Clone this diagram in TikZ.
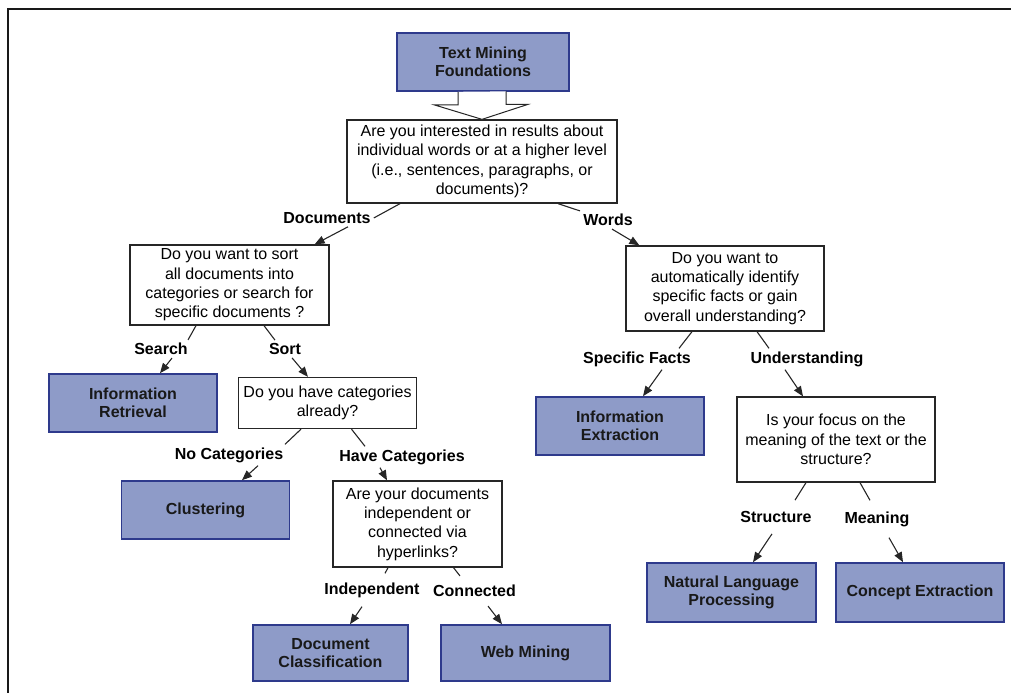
\documentclass[tikz,border=0pt]{standalone}
\usepackage{fontspec}
\setmainfont{Liberation Sans}
\usetikzlibrary{arrows.meta,calc}
\definecolor{boxfill}{HTML}{8E9BC8}
\definecolor{boxline}{HTML}{2E3A8C}
\begin{document}
\begin{tikzpicture}[x=1pt,y=-1pt,
  question/.style={draw=black!85, line width=1.3pt, fill=white, align=center, inner sep=0pt,
    font=\fontsize{16}{19.3}\selectfont},
  result/.style={draw=boxline, line width=1.6pt, fill=boxfill, align=center, inner sep=0pt,
    font=\fontsize{16}{18.5}\selectfont\bfseries, text=black!90},
  choice/.style={font=\fontsize{16}{19}\selectfont\bfseries, inner sep=3pt},
  link/.style={draw=black!85, line width=1.1pt},
  pick/.style={link, -{Triangle[length=10pt,width=8pt]}},
  hollow/.style={draw=black!85, line width=1pt, fill=white},
]
\useasboundingbox (0,0) rectangle (1011,693);

% page frame (top and left edges)
\draw[line width=2pt, black!90] (1011,9) -- (8,9) -- (8,693);

% boxes
\node[result, minimum width=172, minimum height=58] (top) at (483,62) {Text Mining\\Foundations};
\node[question, minimum width=270, minimum height=83] (q1) at (482,161.5)
  {Are you interested in results about\\individual words or at a higher level\\(i.e., sentences, paragraphs, or\\documents)?};

\node[question, minimum width=199, minimum height=80] (q2) at (229.5,285)
  {Do you want to sort\\all documents into\\categories or search for\\specific documents ?};
\node[result, minimum width=168, minimum height=58] (ir) at (133,403) {Information\\Retrieval};
\node[question, minimum width=178, minimum height=51] (q3) at (327.5,403)
  {Do you have categories\\already?};
\node[result, minimum width=168, minimum height=58] (clu) at (205.5,510) {Clustering};
\node[question, minimum width=169, minimum height=86] (q4) at (417.5,524)
  {Are your documents\\independent or\\connected via\\hyperlinks?};
\node[result, minimum width=155, minimum height=56] (dc) at (330.5,653) {Document\\Classification};
\node[result, minimum width=169, minimum height=56] (wm) at (525.5,653) {Web Mining};

\node[question, minimum width=198, minimum height=85] (q5) at (725,288.5)
  {Do you want to\\automatically identify\\specific facts or gain\\overall understanding?};
\node[result, minimum width=168, minimum height=58] (ie) at (620,426) {Information\\Extraction};
\node[question, minimum width=198, minimum height=85] (q6) at (836,439.5)
  {Is your focus on the\\meaning of the text or the\\structure?};
\node[result, minimum width=169, minimum height=59] (nlp) at (731.5,592.5) {Natural Language\\Processing};
\node[result, minimum width=168, minimum height=59] (ce) at (920,592.5) {Concept Extraction};

% branch labels
\node[choice] (docs) at (327,218) {Documents};
\node[choice] (words) at (608,220) {Words};
\node[choice] (search) at (161,349) {Search};
\node[choice] (sort) at (285,349) {Sort};
\node[choice] (nocat) at (229,455) {No Categories};
\node[choice] (havecat) at (402,457) {Have Categories};
\node[choice] (indep) at (372,590) {Independent};
\node[choice] (conn) at (474.5,591) {Connected};
\node[choice] (sf) at (637,359) {Specific Facts};
\node[choice] (und) at (807,359) {Understanding};
\node[choice] (struct) at (776,517) {Structure};
\node[choice] (mean) at (877,519) {Meaning};

% hollow arrow from the start box
\draw[hollow] ([xshift=-25pt]top.south) -- ++(0,13) -- ++(-24,0) -- (q1.north)
  -- ++(46,-15) -- ++(-22,0) -- ++(0,-13);

% connectors: box -> label, label -> box
\draw[link] ([xshift=-82pt]q1.south) -- (docs.east);
\draw[pick] ([xshift=21pt]docs.south) -- ([xshift=-15pt]q2.north east);
\draw[link] ([xshift=76pt]q1.south) -- (words.north west);
\draw[pick] ([xshift=4pt]words.south) -- ([xshift=14pt]q5.north west);

\draw[link] ([xshift=-33.5pt]q2.south) -- ([xshift=27pt]search.north);
\draw[pick] ([xshift=11pt]search.south) -- ([xshift=27pt]ir.north);
\draw[link] ([xshift=34.5pt]q2.south) -- ([xshift=-10pt]sort.north);
\draw[pick] ([xshift=7pt]sort.south) -- ([xshift=-19.5pt]q3.north);

\draw[link] ([xshift=-26.5pt]q3.south) -- ([xshift=56pt]nocat.north);
\draw[pick] ([xshift=29pt]nocat.south) -- ([xshift=36.5pt]clu.north);
\draw[link] ([xshift=24pt]q3.south) -- ([xshift=-37pt]havecat.north);
\draw[pick] ([xshift=-22pt]havecat.south) -- ([xshift=-30.5pt]q4.north);

\draw[link] ([xshift=-29.5pt]q4.south) -- ([xshift=13pt,yshift=6pt]indep.north);
\draw[pick] ([xshift=-10pt,yshift=-6pt]indep.south) -- ([xshift=19.5pt]dc.north);
\draw[link] ([xshift=36pt]q4.south) -- ([xshift=-14.5pt,yshift=6pt]conn.north);
\draw[pick] ([xshift=13.5pt,yshift=-6pt]conn.south) -- ([xshift=-23.5pt]wm.north);

\draw[link] ([xshift=-33pt]q5.south) -- ([xshift=42pt]sf.north);
\draw[pick] ([xshift=25pt]sf.south) -- ([xshift=23pt]ie.north);
\draw[link] ([xshift=32pt]q5.south) -- ([xshift=-38pt]und.north);
\draw[pick] ([xshift=-22pt]und.south) -- ([xshift=-33pt]q6.north);

\draw[link] ([xshift=-30pt]q6.south) -- ([xshift=19pt,yshift=8pt]struct.north);
\draw[pick] ([xshift=-4pt,yshift=-8pt]struct.south) -- ([xshift=21.5pt]nlp.north);
\draw[link] ([xshift=24pt]q6.south) -- ([xshift=-7pt,yshift=8pt]mean.north);
\draw[pick] ([xshift=12pt,yshift=-8pt]mean.south) -- ([xshift=-17pt]ce.north);
\end{tikzpicture}
\end{document}
